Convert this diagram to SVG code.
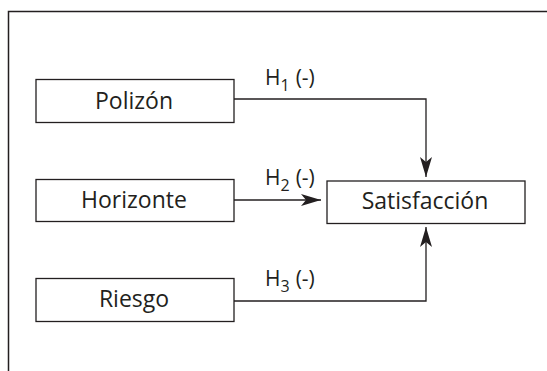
<svg xmlns="http://www.w3.org/2000/svg" width="547" height="371" viewBox="0 0 547 371">
<style>
.box{fill:#fff;stroke:#231f20;stroke-width:1.3}
.frame{fill:none;stroke:#231f20;stroke-width:1.5}
.conn{fill:none;stroke:#231f20;stroke-width:1.3}
text{font-family:"Open Sans","Noto Sans",sans-serif;font-size:23px;fill:#231f20}
.lbl{text-anchor:middle}
.h{font-size:21px}
.sub{font-size:16px}
</style>
<defs>
<marker id="ah" markerUnits="userSpaceOnUse" markerWidth="22" markerHeight="13" refX="20" refY="6.5" orient="auto">
<path d="M0,0.5 L20,6.5 L0,12.5 L5,6.5 Z" fill="#231f20"/>
</marker>
</defs>
<rect width="547" height="371" fill="#fff"/>
<path class="frame" d="M8.5,371 V11.5 H547"/>
<g id="connectors">
<path class="conn" d="M234,99 H426 V177" marker-end="url(#ah)"/>
<path class="conn" d="M234,200 H321" marker-end="url(#ah)"/>
<path class="conn" d="M234,301 H426 V227" marker-end="url(#ah)"/>
<text class="h" x="265" y="85">H<tspan class="sub" dy="6">1</tspan><tspan dy="-6" dx="6">(-)</tspan></text>
<text class="h" x="265" y="185">H<tspan class="sub" dy="6">2</tspan><tspan dy="-6" dx="6">(-)</tspan></text>
<text class="h" x="265" y="286">H<tspan class="sub" dy="6">3</tspan><tspan dy="-6" dx="6">(-)</tspan></text>
</g>
<g id="polizon"><rect class="box" x="36" y="79.5" width="198" height="43"/><text class="lbl" x="134" y="108.5">Polizón</text></g>
<g id="horizonte"><rect class="box" x="36" y="179.5" width="198" height="42"/><text class="lbl" x="134" y="207.5">Horizonte</text></g>
<g id="riesgo"><rect class="box" x="36" y="278.5" width="198" height="43"/><text class="lbl" x="134" y="307">Riesgo</text></g>
<g id="satisfaccion"><rect class="box" x="327" y="181" width="198" height="42.5"/><text class="lbl" x="425" y="208.5">Satisfacción</text></g>
</svg>
